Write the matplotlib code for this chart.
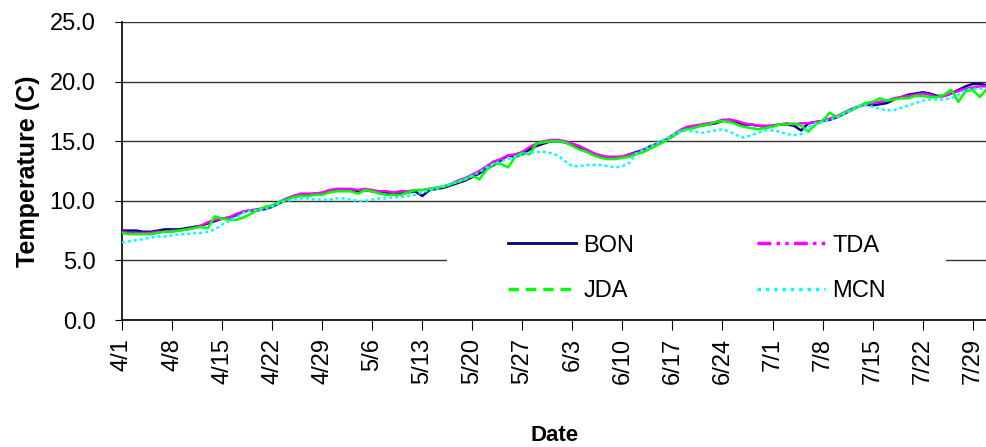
import matplotlib
matplotlib.use('Agg')
import matplotlib.pyplot as plt
from matplotlib.lines import Line2D
from matplotlib.patches import Rectangle
import pandas as pd

plt.rcParams['font.family'] = ['Liberation Sans', 'DejaVu Sans']

# daily water temperature, 4/1 through 7/31
dates = pd.date_range('2000-04-01', '2000-07-31', freq='D')

bon = [7.5, 7.5, 7.5, 7.4, 7.4, 7.5, 7.6, 7.6,
       7.6, 7.7, 7.8, 7.9, 8.1, 8.3, 8.5,
       8.6, 8.8, 9.1, 9.2, 9.2, 9.3, 9.5,
       9.8, 10.1, 10.4, 10.5, 10.5, 10.6, 10.6,
       10.8, 10.9, 10.9, 10.9, 10.8, 10.9, 10.8,
       10.8, 10.7, 10.6, 10.6, 10.7, 10.8, 10.4,
       10.9, 11.0, 11.1, 11.3, 11.5, 11.7, 12.0,
       12.3, 12.7, 13.0, 13.4, 13.8, 13.7, 13.9,
       14.3, 14.6, 14.8, 15.0, 15.0, 14.9, 14.7,
       14.4, 14.2, 13.9, 13.7, 13.6, 13.6, 13.7,
       13.9, 14.1, 14.3, 14.6, 14.8, 15.1, 15.4,
       15.8, 16.1, 16.2, 16.3, 16.4, 16.5, 16.7,
       16.8, 16.6, 16.4, 16.4, 16.3, 16.2, 16.3,
       16.4, 16.4, 16.3, 15.9, 16.5, 16.6, 16.7,
       16.8, 17.0, 17.3, 17.6, 17.9, 18.1, 18.0,
       18.1, 18.2, 18.5, 18.7, 18.9, 19.0, 19.1,
       19.0, 18.8, 18.8, 19.0, 19.3, 19.6, 19.8,
       19.8, 19.7]

tda = [7.4, 7.3, 7.3, 7.3, 7.3, 7.4, 7.4, 7.5,
       7.5, 7.6, 7.7, 7.9, 8.2, 8.4, 8.5,
       8.6, 8.9, 9.1, 9.2, 9.3, 9.4, 9.6,
       9.9, 10.2, 10.4, 10.6, 10.6, 10.6, 10.7,
       10.9, 11.0, 11.0, 11.0, 10.9, 11.0, 10.9,
       10.8, 10.8, 10.7, 10.8, 10.8, 10.9, 10.9,
       11.0, 11.1, 11.2, 11.4, 11.7, 11.9, 12.2,
       12.5, 12.9, 13.3, 13.5, 13.8, 13.9, 14.1,
       14.5, 14.8, 15.0, 15.1, 15.1, 15.0, 14.8,
       14.6, 14.3, 14.0, 13.8, 13.7, 13.7, 13.7,
       13.9, 14.0, 14.3, 14.5, 14.8, 15.1, 15.5,
       15.9, 16.2, 16.3, 16.4, 16.5, 16.6, 16.8,
       16.8, 16.7, 16.5, 16.4, 16.3, 16.3, 16.3,
       16.4, 16.5, 16.4, 16.5, 16.5, 16.6, 16.7,
       16.9, 17.1, 17.4, 17.7, 17.9, 18.1, 18.2,
       18.3, 18.4, 18.6, 18.7, 18.8, 18.9, 19.0,
       18.9, 18.7, 18.8, 19.0, 19.2, 19.4, 19.5,
       19.6, 19.6]

jda = [7.3, 7.2, 7.2, 7.2, 7.2, 7.3, 7.4, 7.4,
       7.5, 7.6, 7.7, 7.8, 7.7, 8.7, 8.5,
       8.4, 8.4, 8.6, 8.9, 9.2, 9.5, 9.6,
       9.9, 10.1, 10.3, 10.4, 10.4, 10.5, 10.5,
       10.7, 10.8, 10.8, 10.8, 10.6, 10.9, 10.8,
       10.6, 10.5, 10.5, 10.5, 10.7, 10.9, 10.9,
       11.0, 11.1, 11.2, 11.4, 11.6, 11.8, 12.1,
       11.8, 12.6, 13.1, 13.1, 12.8, 13.7, 14.0,
       13.9, 14.8, 14.9, 15.0, 15.0, 14.9, 14.6,
       14.3, 14.1, 13.8, 13.6, 13.5, 13.5, 13.6,
       13.7, 13.9, 14.1, 14.4, 14.7, 15.0, 15.4,
       15.8, 16.0, 16.1, 16.3, 16.4, 16.6, 16.7,
       16.6, 16.4, 16.2, 16.1, 16.0, 16.1, 16.2,
       16.4, 16.4, 16.5, 16.3, 15.8, 16.4, 16.7,
       17.4, 17.0, 17.4, 17.6, 17.9, 18.2, 18.3,
       18.6, 18.4, 18.5, 18.6, 18.6, 18.8, 18.8,
       18.7, 18.7, 18.9, 19.3, 18.3, 19.2, 19.3,
       18.7, 19.4]

mcn = [6.5, 6.6, 6.7, 6.8, 6.9, 7.0, 7.0, 7.1,
       7.2, 7.2, 7.3, 7.3, 7.4, 7.6, 8.0,
       8.3, 8.6, 9.0, 9.2, 9.2, 9.3, 9.5,
       9.8, 10.0, 10.1, 10.2, 10.2, 10.1, 10.1,
       10.1, 10.2, 10.2, 10.1, 10.0, 10.0, 10.1,
       10.2, 10.2, 10.3, 10.3, 10.4, 10.5, 10.7,
       10.9, 11.0, 11.2, 11.4, 11.6, 11.8, 12.1,
       12.4, 12.8, 13.1, 13.3, 13.5, 13.7, 13.9,
       14.0, 14.1, 14.1, 14.0, 13.8, 13.3, 12.9,
       12.9, 13.0, 13.0, 13.0, 12.9, 12.8, 12.9,
       13.2, 14.0, 14.3, 14.6, 14.9, 15.2, 15.5,
       15.8, 15.9, 15.8, 15.7, 15.8, 15.9, 16.0,
       15.8, 15.5, 15.3, 15.5, 15.7, 15.9, 15.9,
       15.8, 15.6, 15.5, 15.6, 16.2, 16.5, 16.6,
       16.8, 17.0, 17.3, 17.6, 17.9, 18.0, 17.9,
       17.7, 17.6, 17.6, 17.8, 18.0, 18.2, 18.4,
       18.5, 18.5, 18.5, 18.6, 18.9, 19.3, 19.4,
       19.4, 19.4]

tick_dates = dates[::7]
tick_labels = [f'{d.month}/{d.day}' for d in tick_dates]

fig = plt.figure(figsize=(9.87, 4.47), dpi=100)
ax = fig.add_axes([0.1236, 0.2841, 0.8764, 0.6667])

ax.plot(dates, bon, color='#000080', lw=1.8, zorder=3)
ax.plot(dates, tda, color='#FF00FF', lw=1.8, zorder=3)
ax.plot(dates, jda, color='#00FF00', lw=1.8, zorder=3)
ax.plot(dates, mcn, color='#00FFFF', lw=1.8, ls=(0, (1.2, 1.2)), zorder=3)

ax.set_xlim(dates[0], dates[-1])
ax.set_ylim(0, 25)
ax.set_yticks([0, 5, 10, 15, 20, 25])
ax.set_yticklabels([f'{v:.1f}' for v in [0, 5, 10, 15, 20, 25]])
ax.set_xticks(tick_dates)
ax.set_xticklabels(tick_labels, rotation=90)
ax.tick_params(axis='both', labelsize=17, direction='out', color='black')
ax.tick_params(axis='x', length=7, pad=6)
ax.tick_params(axis='y', length=5, pad=14)

for s in ['top', 'right']:
    ax.spines[s].set_visible(False)
for s in ['left', 'bottom']:
    ax.spines[s].set_linewidth(1.2)

ax.grid(axis='y', color='#333333', lw=1.0)
ax.set_axisbelow(True)

ax.set_ylabel('Temperature (C)', fontsize=18, fontweight='bold', labelpad=7)
ax.set_xlabel('Date', fontsize=16, fontweight='bold', labelpad=29)

# white legend area (hides the 5.0 gridline, not the axis)
ax.add_patch(Rectangle((0.3753, 0.027), 0.5774, 0.292, transform=ax.transAxes,
                       facecolor='white', edgecolor='none', zorder=2))

# legend handles show the line patterns (Excel style)
handles = [
    Line2D([], [], color='#000080', lw=2),
    Line2D([], [], color='#00FF00', lw=2.5, ls=(0, (3, 2))),
    Line2D([], [], color='#FF00FF', lw=2.5, ls=(0, (4, 1.5, 1, 1.5, 1, 1.5))),
    Line2D([], [], color='#00FFFF', lw=2.5, ls=(0, (1, 1.4))),
]
labels = ['BON', 'JDA', 'TDA', 'MCN']
ax.legend(handles, labels, ncol=2, loc='center', bbox_to_anchor=(0.6645, 0.1728),
          fontsize=17, frameon=False, borderpad=0, handlelength=2.9,
          handletextpad=0.3, columnspacing=5.2, labelspacing=1.0)

plt.savefig('out.png', dpi=100)
plt.close()
